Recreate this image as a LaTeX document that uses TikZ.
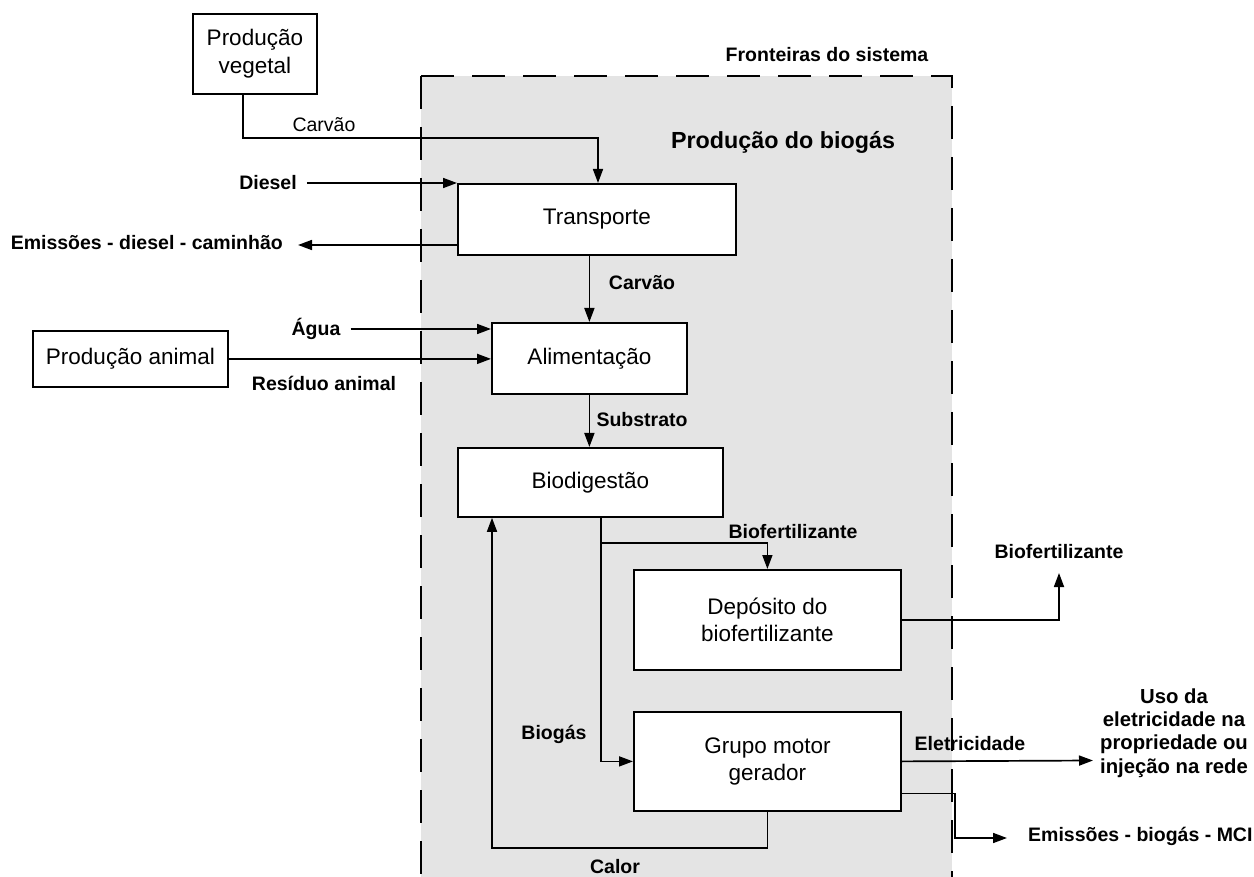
\documentclass[tikz,border=0pt]{standalone}
\usepackage{fontspec}
\setmainfont{Liberation Sans}
\usetikzlibrary{arrows.meta}
\definecolor{zone}{HTML}{E4E4E4}
\newcommand{\boxfont}{\fontsize{22.5}{27.5}\selectfont}
\newcommand{\lblfont}{\fontsize{19.5}{23.5}\selectfont\bfseries}
\newcommand{\plainlbl}{\fontsize{19.5}{23.5}\selectfont}
\begin{document}
\begin{tikzpicture}[x=1pt,y=-1pt,
  procbox/.style={draw, line width=1.8pt, fill=white, inner sep=0pt,
    align=center, font=\boxfont, anchor=north west},
  lbl/.style={font=\lblfont, inner sep=0pt},
  flow/.style={line width=1.7pt, -{Triangle[length=14pt,width=10pt]}},
  frontier/.style={line width=1.5pt, dash pattern=on 33pt off 18pt}]
\useasboundingbox (0,0) rectangle (1254,877);

% system boundary
\fill[zone] (421,76) rectangle (952,877);
\draw[frontier] (421,76) -- (421,877);
\draw[frontier] (421,76) -- (952,76) -- (952,877);
\node[lbl] (front) at (827,55) {Fronteiras do sistema};
\node[font=\fontsize{23.3}{28}\selectfont\bfseries, inner sep=0pt] (title) at (783,142) {Produção do biogás};

% process boxes
\node[procbox, minimum width=124pt, minimum height=80pt] (veg) at (192,13) {Produção\\vegetal};
\node[procbox, minimum width=278pt, minimum height=71pt] (transp) at (457,183) {Transporte};
\node[procbox, minimum width=195pt, minimum height=56pt] (animal) at (32,330) {Produção animal};
\node[procbox, minimum width=195pt, minimum height=71pt] (alim) at (491,322) {Alimentação};
\node[procbox, minimum width=265pt, minimum height=69pt] (biodig) at (457,447) {Biodigestão};
\node[procbox, minimum width=267pt, minimum height=100pt] (depos) at (633,569) {Depósito do\\biofertilizante};
\node[procbox, minimum width=267pt, minimum height=99pt] (grupo) at (633,711) {Grupo motor\\gerador};

% labels
\node[font=\plainlbl, inner sep=0pt] (carv1) at (324,125) {Carvão};
\node[lbl] (diesel) at (268,183) {Diesel};
\node[lbl, anchor=east] (emd) at (283,243) {Emissões - diesel - caminhão};
\node[lbl] (carv2) at (642,283) {Carvão};
\node[lbl] (agua) at (316,329) {Água};
\node[lbl] (resid) at (324,383) {Resíduo animal};
\node[lbl] (subs) at (642,420) {Substrato};
\node[lbl] (bf1) at (793,532) {Biofertilizante};
\node[lbl] (bf2) at (1059,552) {Biofertilizante};
\node[lbl] (biogas) at (554,734) {Biogás};
\node[lbl] (elet) at (970,744) {Eletricidade};
\node[font=\fontsize{20.3}{23.3}\selectfont\bfseries, inner sep=0pt, align=center] (uso) at (1174,733) {Uso da\\eletricidade na\\propriedade ou\\injeção na rede};
\node[lbl, anchor=west] (emb) at (1028,836) {Emissões - biogás - MCI};
\node[lbl] (calor) at (615,867) {Calor};

% connector end points
\coordinate (k1) at (598,138);
\coordinate (ed) at (298,245);
\coordinate (b1) at (601,543);
\coordinate (bfout) at (1059,573);
\coordinate (elout) at (1093,760.5);
\coordinate (emout) at (1007,838);

% flows
\draw[flow] ([xshift=-12pt]veg.south) |- (k1) -- (k1 |- transp.north);
\draw[flow] ([xshift=10pt]diesel.east) -- (transp.north west);
\draw[flow] (transp.west |- ed) -- (ed);
\draw[flow] (transp.south -| alim.north) -- (alim.north);
\draw[flow] ([xshift=10pt]agua.east) -- (alim.west |- agua);
\draw[flow] (animal.east) -- (alim.west |- animal.east);
\draw[flow] (alim.south) -- (alim.south |- biodig.north);
\draw[flow] (biodig.south -| b1) -- (b1) -| (depos.north);
\draw[flow] (b1) |- (grupo.west);
\draw[flow] (depos.east) -| (bfout);
\draw[flow] (grupo.east) -- (elout);
\draw[flow] ([yshift=-32pt]grupo.east) -- ++(53,0) |- (emout);
\draw[flow] (grupo.south) -- ++(0,36) -| ([xshift=35pt]biodig.south west);
\end{tikzpicture}
\end{document}
